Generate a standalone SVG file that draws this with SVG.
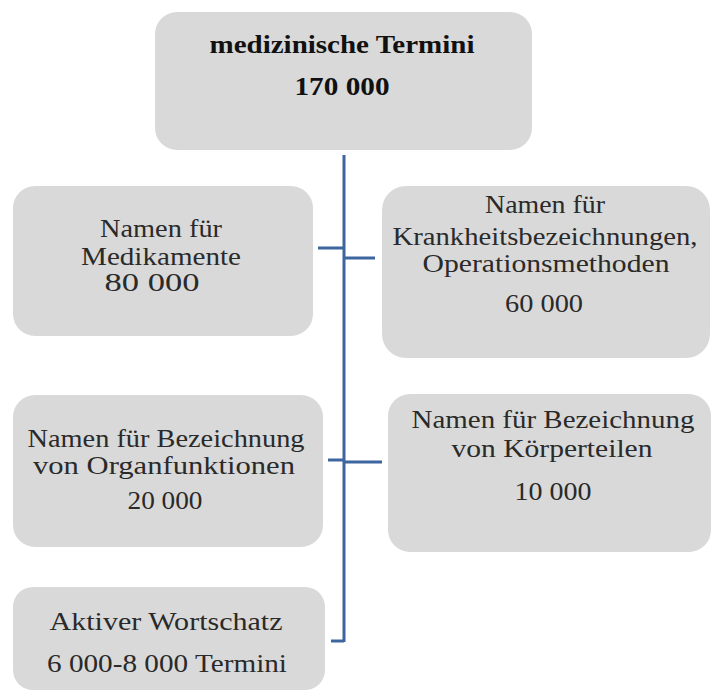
<svg xmlns="http://www.w3.org/2000/svg" width="712" height="691" viewBox="0 0 712 691">
<style>
.box{fill:#d9d9d9;stroke:none}
.t{font-family:"Liberation Serif","Times New Roman",serif;font-size:25px;fill:#2a2a2a;text-anchor:middle}
.b{font-weight:bold;font-size:26px;fill:#111}
.c{stroke:#3d65a0;stroke-width:3;fill:none}
</style>
<rect width="712" height="691" fill="#fff"/>
<g id="n0">
<rect class="box" x="155" y="12" width="377" height="138" rx="22"/>
<text class="t b" x="342" y="53" textLength="265" lengthAdjust="spacingAndGlyphs">medizinische Termini</text>
<text class="t b" x="342" y="95" textLength="95" lengthAdjust="spacingAndGlyphs">170 000</text>
</g>
<g id="n1">
<rect class="box" x="13" y="186" width="300" height="150" rx="22"/>
<text class="t" x="161" y="237" textLength="122" lengthAdjust="spacingAndGlyphs">Namen für</text>
<text class="t" x="161" y="265" textLength="160" lengthAdjust="spacingAndGlyphs">Medikamente</text>
<text class="t" x="152" y="291" textLength="95" lengthAdjust="spacingAndGlyphs">80 000</text>
</g>
<g id="n2">
<rect class="box" x="382" y="186" width="328" height="172" rx="24"/>
<text class="t" x="545" y="213" textLength="120" lengthAdjust="spacingAndGlyphs">Namen für</text>
<text class="t" x="545" y="245" textLength="305" lengthAdjust="spacingAndGlyphs">Krankheitsbezeichnungen,</text>
<text class="t" x="546" y="272" textLength="247" lengthAdjust="spacingAndGlyphs">Operationsmethoden</text>
<text class="t" x="544" y="312" textLength="78" lengthAdjust="spacingAndGlyphs">60 000</text>
</g>
<g id="n3">
<rect class="box" x="13" y="395" width="310" height="152" rx="22"/>
<text class="t" x="166" y="447" textLength="277" lengthAdjust="spacingAndGlyphs">Namen für Bezeichnung</text>
<text class="t" x="164" y="474" textLength="262" lengthAdjust="spacingAndGlyphs">von Organfunktionen</text>
<text class="t" x="165" y="509" textLength="75" lengthAdjust="spacingAndGlyphs">20 000</text>
</g>
<g id="n4">
<rect class="box" x="388" y="394" width="323" height="158" rx="22"/>
<text class="t" x="553" y="428" textLength="283" lengthAdjust="spacingAndGlyphs">Namen für Bezeichnung</text>
<text class="t" x="552" y="457" textLength="201" lengthAdjust="spacingAndGlyphs">von Körperteilen</text>
<text class="t" x="553" y="500" textLength="77" lengthAdjust="spacingAndGlyphs">10 000</text>
</g>
<g id="n5">
<rect class="box" x="13" y="587" width="312" height="103" rx="20"/>
<text class="t" x="166" y="630" textLength="233" lengthAdjust="spacingAndGlyphs">Aktiver Wortschatz</text>
<text class="t" x="167" y="672" textLength="240" lengthAdjust="spacingAndGlyphs">6 000-8 000 Termini</text>
</g>
<g id="connectors">
<path class="c" d="M344 155 V642"/>
<path class="c" d="M318 248 H343"/>
<path class="c" d="M345 258 H375"/>
<path class="c" d="M328 460 H343"/>
<path class="c" d="M345 462 H382"/>
<path class="c" d="M331 641 H344"/>
</g>
</svg>
